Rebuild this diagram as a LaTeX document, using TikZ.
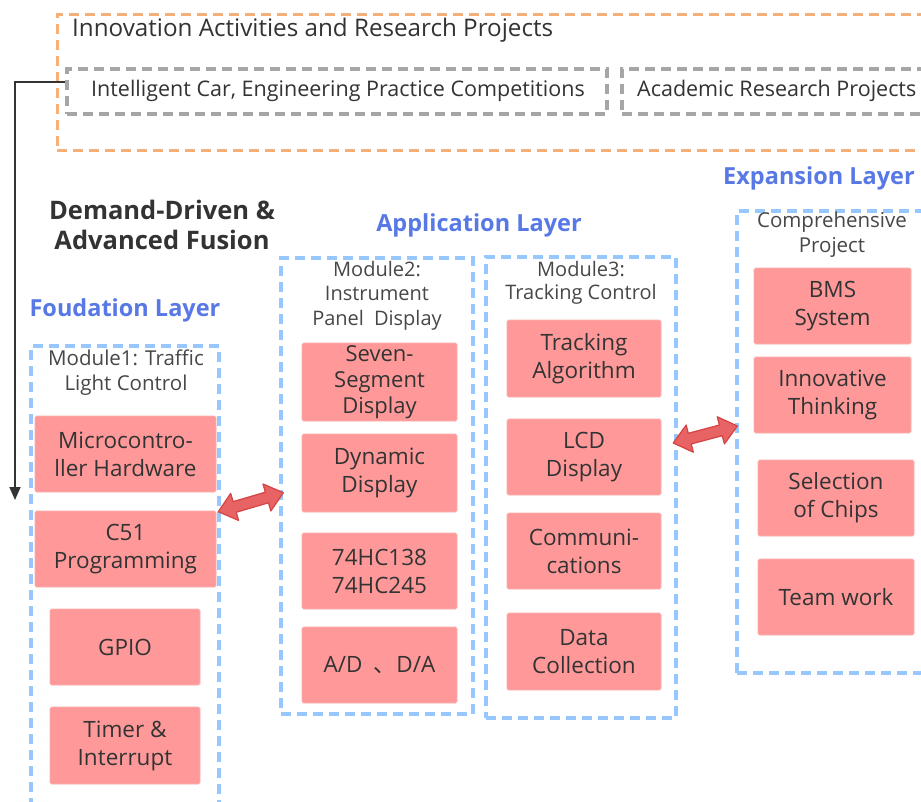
\documentclass[tikz,border=0pt]{standalone}
\usepackage{fontspec}
\setmainfont{Open Sans}
\usetikzlibrary{fit,arrows.meta,calc}
\definecolor{salmon}{RGB}{255,153,153}
\definecolor{salmonedge}{RGB}{250,175,175}
\definecolor{dashblue}{RGB}{150,200,255}
\definecolor{dashorange}{RGB}{244,176,120}
\definecolor{dashgray}{RGB}{166,166,166}
\definecolor{headblue}{RGB}{88,120,230}
\definecolor{txt}{RGB}{51,51,51}
\definecolor{arrfill}{RGB}{232,100,100}
\definecolor{arredge}{RGB}{215,70,70}
\newcommand\blockarr[1]{%
  \filldraw[fill=arrfill,draw=arredge,line width=1.3pt,line join=round]
    (0,0) -- (17,-14) -- (17,-5.5) -- (#1-17,-5.5) -- (#1-17,-14) -- (#1,0)
    -- (#1-17,14) -- (#1-17,5.5) -- (17,5.5) -- (17,14) -- cycle;}
\begin{document}
\begin{tikzpicture}[x=1pt,y=-1pt,
  pbox/.style={fill=salmon,draw=salmonedge,line width=0.6pt,rounded corners=1.5pt,
    inner sep=0pt,align=center,text=txt,font=\fontsize{22.5}{28}\selectfont},
  bluebox/.style={draw=dashblue,line width=3.2pt,dash pattern=on 10pt off 6pt,inner sep=0pt},
  orangebox/.style={draw=dashorange,line width=3pt,dash pattern=on 10pt off 6pt,inner sep=0pt},
  graybox/.style={draw=dashgray,line width=3.2pt,dash pattern=on 10pt off 6pt,inner sep=0pt},
  modtitle/.style={align=center,text=txt!90,font=\fontsize{20.5}{25}\selectfont,inner sep=0pt},
  layerhead/.style={text=headblue,font=\bfseries\fontsize{23.5}{28}\selectfont,inner sep=0pt},
  toptext/.style={text=txt,font=\fontsize{21.5}{26}\selectfont,inner sep=0pt,anchor=west}
]
\path[use as bounding box,clip] (0,0) rectangle (921,801);
\fill[white] (0,0) rectangle (921,801);

% top orange container
\node[orangebox,fit={(57,14) (960,150)}] (innov) {};
\node[toptext,font=\fontsize{24.2}{26}\selectfont] (innovt) at (72,30) {Innovation Activities and Research Projects};
\node[graybox,fit={(67,69) (607,114)}] (g1) {};
\node[text=txt,font=\fontsize{21.5}{26}\selectfont,inner sep=0pt] (g1t) at (338,91) {Intelligent Car, Engineering Practice Competitions};
\node[graybox,fit={(622,69) (960,114)}] (g2) {};
\node[toptext] (g2t) at (637,91) {Academic Research Projects};

% black arrow
\coordinate (a0) at ($(g1.west)+(0,-9.5)$);
\coordinate (a1) at (15,82);
\coordinate (a2) at (15,500);
\draw[txt,line width=1.6pt,-{Triangle[length=13pt,width=11pt]}] (a0) -- (a1) -- (a2);

% headings
\node[align=center,text=txt,font=\bfseries\fontsize{25.5}{30}\selectfont,inner sep=0pt] (dd) at (162,225) {Demand-Driven \&\\Advanced Fusion};
\node[layerhead] (fl) at (125,310) {Foudation Layer};
\node[layerhead] (al) at (479,225) {Application Layer};
\node[layerhead] (el) at (819,178) {Expansion Layer};

% Module 1
\node[bluebox,fit={(31,346) (219,830)}] (m1) {};
\node[modtitle] (m1t) at (126,373) {Module1: Traffic\\Light Control};
\node[pbox,minimum width=181pt,minimum height=76pt] (mh) at (125.5,454) {Microcontro-\\ller Hardware};
\node[pbox,minimum width=181pt,minimum height=76pt] (c51) at (125.5,549) {C51\\Programming};
\node[pbox,minimum width=150pt,minimum height=76pt] (gpio) at (125,647) {GPIO};
\node[pbox,minimum width=150pt,minimum height=77pt] (timer) at (125,745.5) {Timer \&\\Interrupt};

% Module 2
\node[bluebox,fit={(281,258) (473,714)}] (m2) {};
\node[modtitle,font=\fontsize{20}{24.5}\selectfont] (m2t) at (377,295.5) {Module2:\\Instrument\\Panel\enspace Display};
\node[pbox,minimum width=155pt,minimum height=78pt,font=\fontsize{22}{26}\selectfont] (seg) at (379.5,382) {Seven-\\Segment\\Display};
\node[pbox,minimum width=155pt,minimum height=78pt] (dyn) at (379.5,473) {Dynamic\\Display};
\node[pbox,minimum width=155pt,minimum height=76pt] (hc) at (379.5,571) {74HC138\\74HC245};
\node[pbox,minimum width=155pt,minimum height=76pt] (ad) at (379.5,665) {A/D\enspace{\fontspec{Noto Sans CJK SC}、}D/A};

% Module 3
\node[bluebox,fit={(486,257) (676,718)}] (m3) {};
\node[modtitle,font=\fontsize{20}{23}\selectfont] (m3t) at (581,282.5) {Module3:\\Tracking Control};
\node[pbox,minimum width=154pt,minimum height=77pt] (trk) at (584,358.5) {Tracking\\Algorithm};
\node[pbox,minimum width=154pt,minimum height=76pt] (lcd) at (584,457) {LCD\\Display};
\node[pbox,minimum width=154pt,minimum height=76pt] (comm) at (584,551) {Communi-\\cations};
\node[pbox,minimum width=154pt,minimum height=77pt] (data) at (584,651.5) {Data\\Collection};

% Expansion
\node[bluebox,fit={(737,211) (960,673)}] (cp) {};
\node[modtitle] (cpt) at (832,234.5) {Comprehensive\\Project};
\node[pbox,minimum width=157pt,minimum height=76pt] (bms) at (832.5,306) {BMS\\System};
\node[pbox,minimum width=157pt,minimum height=76pt] (inn) at (832.5,395) {Innovative\\Thinking};
\node[pbox,minimum width=156pt,minimum height=76pt] (sel) at (836,498) {Selection\\of Chips};
\node[pbox,minimum width=156pt,minimum height=76pt] (team) at (836,597) {Team work};

% double block arrows
\coordinate (b1l) at ($(c51.north east)+(2,1)$);
\coordinate (b1r) at ($(m2.west)+(2,7)$);
\begin{scope}[shift={(b1l)},rotate=16.3]
  \blockarr{67.7}
\end{scope}
\coordinate (b2l) at ($(lcd.east)+(12,-14)$);
\coordinate (b2r) at ($(cp.west)+(0,-16)$);
\begin{scope}[shift={(b2l)},rotate=14.9]
  \blockarr{66.2}
\end{scope}
\end{tikzpicture}
\end{document}
